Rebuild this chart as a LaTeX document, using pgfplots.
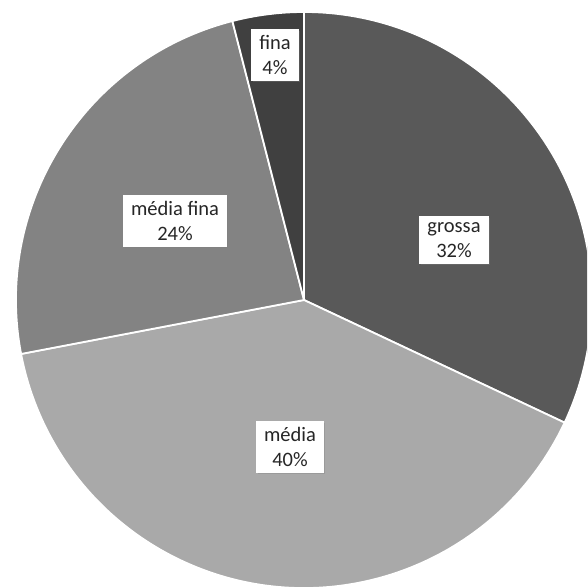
\documentclass[border=0pt]{standalone}
\usepackage{pgfplots}
\pgfplotsset{compat=1.18}
\usepackage{fontspec}
\setmainfont{Carlito}
\usetikzlibrary{shadows}
\definecolor{cgrossa}{HTML}{595959}
\definecolor{cmedia}{HTML}{A9A9A9}
\definecolor{cmediafina}{HTML}{838383}
\definecolor{cfina}{HTML}{404040}
% data: percentages
\def\vgrossa{32}
\def\vmedia{40}
\def\vmediafina{24}
\def\vfina{4}
\begin{document}
\begin{tikzpicture}
\begin{axis}[x=1pt,y=1pt,xmin=0,xmax=587,ymin=0,ymax=588,
  hide axis, scale only axis, clip=true]
\fill[white] (rel axis cs:0,0) rectangle (rel axis cs:1,1);
\pgfmathsetmacro{\aA}{90}
\pgfmathsetmacro{\aB}{90-\vgrossa*3.6}
\pgfmathsetmacro{\aC}{\aB-\vmedia*3.6}
\pgfmathsetmacro{\aD}{\aC-\vmediafina*3.6}
\pgfmathsetmacro{\aE}{\aD-\vfina*3.6}
\filldraw[fill=cgrossa,draw=white,line width=1.8pt,line join=round] (axis cs:304,288) -- ++(\aA:288pt) arc[start angle=\aA,end angle=\aB,radius=288pt] -- cycle;
\filldraw[fill=cmedia,draw=white,line width=1.8pt,line join=round] (axis cs:304,288) -- ++(\aB:288pt) arc[start angle=\aB,end angle=\aC,radius=288pt] -- cycle;
\filldraw[fill=cmediafina,draw=white,line width=1.8pt,line join=round] (axis cs:304,288) -- ++(\aC:288pt) arc[start angle=\aC,end angle=\aD,radius=288pt] -- cycle;
\filldraw[fill=cfina,draw=white,line width=1.8pt,line join=round] (axis cs:304,288) -- ++(\aD:288pt) arc[start angle=\aD,end angle=\aE,radius=288pt] -- cycle;
\tikzset{lbl/.style={fill=white,align=center,inner xsep=8pt,inner ysep=6pt,
  font=\fontsize{20.5}{25}\selectfont,text=black!85,
  drop shadow={shadow xshift=1.5pt,shadow yshift=-1.5pt,opacity=0.35}}}
\node[lbl] at (axis cs:275,533) {fina\\4\%};
\node[lbl] at (axis cs:454,348) {grossa\\32\%};
\node[lbl] at (axis cs:175,367) {média fina\\24\%};
\node[lbl] at (axis cs:290,141) {média\\40\%};
\end{axis}
\end{tikzpicture}
\end{document}
